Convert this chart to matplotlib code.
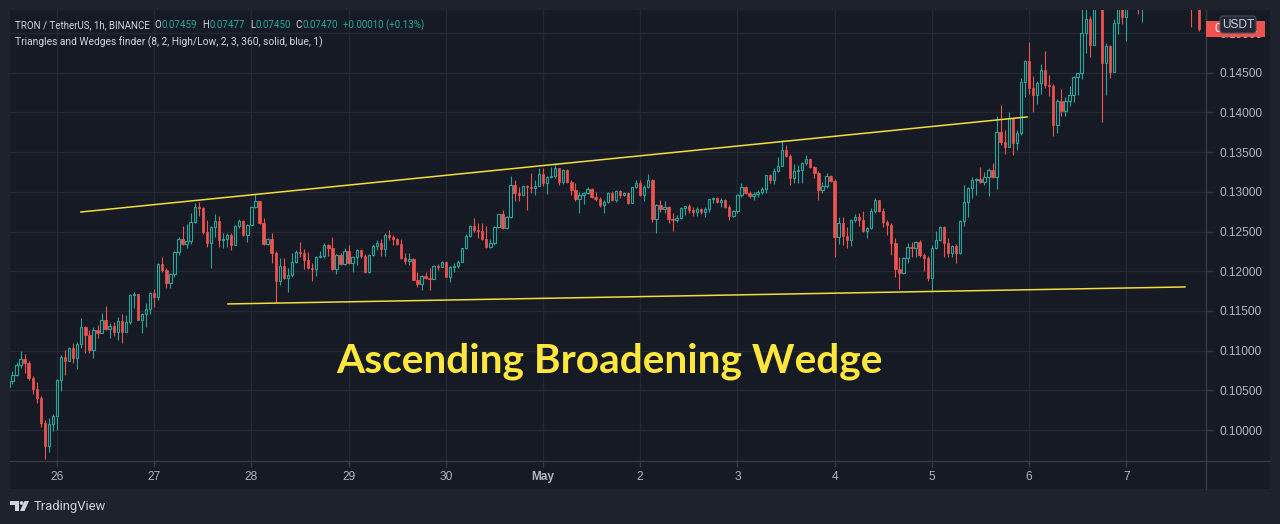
import numpy as np
import matplotlib
matplotlib.use("Agg")
import matplotlib.pyplot as plt
from matplotlib import font_manager
from matplotlib.patches import Rectangle, FancyBboxPatch, Polygon, Circle
from matplotlib.lines import Line2D
from matplotlib.transforms import Affine2D

# ---------------- data (prices x 100000, hourly candles from 2024-04-25 12:00) ----------------
FIRST_OPEN = 10542
CLOSE = [10617,10693,10819,10895,10844,10655,10517,10403,10089,9799,10077,10176,10630,10920,10869,11033,10907,11084,11298,11197,
11008,11260,11222,11386,11273,11310,11235,11373,11235,11360,11701,11714,11386,11462,11525,11726,11676,12091,12016,11852,
11966,12242,12406,12343,12380,12620,12809,12796,12494,12355,12557,12632,12393,12406,12456,12330,12570,12632,12456,12582,
12809,12884,12607,12343,12406,12229,11877,12066,11915,11953,12117,12242,12229,12142,12041,12028,12180,12192,12330,12292,
12028,12204,12091,12255,12104,12180,12267,12192,11991,12204,12318,12355,12280,12456,12431,12406,12343,12167,12129,12154,
11890,11840,11940,11915,11903,12066,12054,12117,11928,12054,12066,12117,12292,12443,12570,12519,12507,12406,12305,12355,
12557,12721,12544,12683,13086,12985,12960,13074,13061,13049,13074,13225,13112,13187,13200,13301,13124,13275,13124,13023,
12910,12960,12985,13036,12935,12910,12834,12872,12985,12897,13011,12960,12985,12859,13061,13112,12960,13061,13149,12658,
12834,12784,12809,12658,12645,12670,12796,12821,12771,12746,12784,12746,12784,12910,12922,12872,12897,12809,12696,12759,
12960,13061,12985,12947,12973,12998,13036,13212,13149,13263,13326,13527,13452,13175,13263,13275,13364,13414,13313,13238,
13023,13074,13200,13137,12431,12607,12443,12393,12645,12683,12645,12507,12544,12759,12897,12759,12620,12582,12355,12028,
11978,12167,12305,12292,12368,12204,12167,11915,12292,12393,12557,12355,12229,12318,12229,12632,12872,13049,13149,13162,
13124,13187,13275,13187,13754,13628,13565,13930,13615,13741,14383,14647,14307,14219,14370,14534,14345,14332,13842,14144,
14018,14144,14219,14446,14496,14999,15177,14849,15400,15600,14622,14837,14509,15126,15380,15202,15400,15500,15550,15450,
15600,15700,15800,15750,15900,15850,15950,16000,15900,15800,15700,15600,15450,15500,15051]
HIGH = [10655,10743,10857,10995,10958,10869,10680,10605,10428,10127,10151,10202,10643,10945,11008,11046,11096,11109,11411,11310,
11260,11298,11323,11474,11562,11348,11360,11424,11461,11449,11714,11739,11714,11474,11600,11739,11777,12104,12180,12041,
11978,12255,12431,12570,12595,12733,12859,12872,12809,12645,12570,12721,12696,12481,12481,12481,12582,12658,12645,12595,
12821,12973,12884,12670,12418,12481,12255,12167,12167,12041,12229,12267,12368,12280,12242,12104,12192,12255,12355,12343,
12431,12217,12229,12292,12330,12192,12280,12280,12217,12217,12343,12393,12406,12481,12519,12456,12418,12406,12229,12229,
12167,11991,11953,11991,12041,12079,12091,12129,12129,12066,12104,12142,12292,12469,12582,12670,12607,12607,12570,12406,
12570,12721,12771,12696,13200,13149,13061,13074,13086,13238,13149,13301,13301,13200,13313,13364,13301,13288,13288,13149,
13111,12998,12998,13061,13049,12998,12935,12897,12998,13011,13023,13023,12998,12998,13061,13149,13149,13086,13225,13162,
12846,12897,12884,12821,12733,12708,12809,12821,12846,12809,12809,12796,12809,12910,12935,12935,12922,12910,12834,12771,
12973,13111,13074,13011,12998,13023,13061,13212,13225,13301,13439,13653,13590,13477,13351,13338,13376,13464,13427,13326,
13263,13124,13238,13212,13162,12683,12683,12557,12658,12721,12733,12759,12557,12796,12922,12897,12796,12645,12607,12418,
12180,12180,12355,12368,12380,12393,12229,12192,12330,12507,12570,12570,12418,12330,12343,12645,13086,13061,13187,13175,
13313,13250,13301,13364,13955,14094,13779,14006,13817,13779,14433,14660,14887,14458,14395,14610,14773,14471,14358,14169,
14295,14194,14332,14458,14496,15350,15400,15214,15500,15750,15650,14874,14849,15177,15500,15450,15550,15600,15650,15600,
15700,15800,15900,15850,16000,15950,16050,16100,16000,15900,15800,15700,15650,15600,15600]
LOW = [10479,10580,10680,10781,10718,10630,10454,10340,10039,9636,9724,9988,10001,10491,10693,10869,10844,10768,11033,10970,
10970,10907,11159,11222,11260,11159,11184,11134,11096,11235,11335,11537,11386,11222,11298,11462,11550,11638,11991,11789,
11789,11928,12204,12330,12292,12343,12607,12696,12469,12305,12041,12431,12305,12292,12305,12267,12330,12544,12443,12368,
12582,12796,12595,12330,12330,12104,11600,11827,11903,11739,11928,12104,12180,12028,12028,11877,11940,12167,12167,12192,
12016,11966,12079,12079,12091,11991,12079,12167,11978,11978,12192,12267,12192,12192,12393,12330,12330,12154,12091,12079,
11890,11802,11764,11903,11764,11915,12016,12054,11928,11865,11991,12041,12117,12280,12431,12494,12418,12393,12292,12292,
12330,12544,12532,12532,12670,12884,12884,12960,12771,12985,12960,13074,13074,12973,13175,13175,13086,13099,13112,12960,
12884,12733,12846,12973,12922,12884,12809,12733,12859,12884,12872,12922,12947,12846,12859,13049,12947,12884,13049,12620,
12481,12746,12733,12607,12507,12620,12658,12708,12733,12696,12696,12721,12683,12746,12859,12859,12809,12796,12645,12683,
12733,12935,12973,12922,12897,12935,12973,12985,13112,13099,13250,13338,13439,13086,13112,13112,13112,13338,13301,13175,
12897,12985,13049,13124,12180,12343,12330,12292,12318,12620,12570,12494,12418,12532,12733,12746,12557,12456,12204,11928,
11777,11966,12104,12180,12180,12180,12003,11877,11739,12280,12380,12180,12180,12180,12104,12217,12570,12683,12922,12960,
13112,13086,12947,13175,13036,13590,13477,13565,13464,13527,13716,14194,14232,14006,14106,14232,14307,14206,13703,13741,
13955,13955,14081,14131,14219,14421,14748,14698,14849,15450,13880,14219,14433,14509,14987,15114,14899,15350,15400,15240,
15139,15550,15650,15600,15700,15700,15800,15850,15750,15650,15550,15450,15076,15350,15025]

DAY_LABELS = ["26", "27", "28", "29", "30", "May", "2", "3", "4", "5", "6", "7"]
DAY_POS = [12 + 24 * k for k in range(len(DAY_LABELS))]          # midnight of each day (hours from start)
PRICE_TICKS = [0.100, 0.105, 0.110, 0.115, 0.120, 0.125, 0.130, 0.135, 0.140, 0.145, 0.150]

UPPER_LINE_X = [17.9, 251.5]
UPPER_LINE_Y = [0.12746, 0.13943]
LOWER_LINE_X = [54.2, 290.5]
LOWER_LINE_Y = [0.11588, 0.11802]

HEADER_NAME = "TRON / TetherUS, 1h, BINANCE"
HEADER_OHLC = [("O", "0.07459"), ("H", "0.07477"), ("L", "0.07450"), ("C", "0.07470")]
HEADER_CHANGE = "+0.00010 (+0.13%)"
INDICATOR = "Triangles and Wedges finder (8, 2, High/Low, 2, 3, 360, solid, blue, 1)"
TITLE = "Ascending Broadening Wedge"

# ---------------- style ----------------
FRAME = "#1e222d"
PANE = "#161a25"
GRID = "#242833"
BORDER = "#363a45"
TXT = "#b2b5be"
LIGHT = "#d1d4dc"
GREEN = "#26a69a"
RED = "#ef5350"
TEAL_TXT = "#22ab94"
YEL = "#f2dd3a"

names = {f.name for f in font_manager.fontManager.ttflist}
SMALL = "Liberation Sans Narrow" if "Liberation Sans Narrow" in names else "Roboto"
plt.rcParams["font.family"] = ["Liberation Sans", "DejaVu Sans"]

W, H = 1280, 524
fig = plt.figure(figsize=(W / 100, H / 100), dpi=100)
fig.patch.set_facecolor(FRAME)
pxT = Affine2D().scale(1 / W, -1 / H).translate(0, 1) + fig.transFigure

fig.add_artist(Rectangle((10, 10), 1260, 479, transform=pxT, facecolor=PANE, edgecolor="none", zorder=0))

ax = fig.add_axes([10 / W, 1 - 461 / H, 1196 / W, 451 / H])
ax.set_facecolor(PANE)

opens = np.array([FIRST_OPEN] + CLOSE[:-1]) / 1e5
closes = np.array(CLOSE) / 1e5
highs = np.array(HIGH) / 1e5
lows = np.array(LOW) / 1e5
idx = np.arange(len(closes))
up = closes >= opens
cols = [GREEN if u else RED for u in up]
ax.vlines(idx, lows, highs, colors=cols, linewidth=0.8, zorder=3)
bottom = np.minimum(opens, closes)
height = np.maximum(np.abs(closes - opens), 0.00007)
ax.bar(idx[up], height[up], bottom=bottom[up], width=0.58, facecolor=PANE, edgecolor=GREEN,
       linewidth=0.8, zorder=4)
ax.bar(idx[~up], height[~up], bottom=bottom[~up], width=0.58, facecolor=RED, edgecolor=RED,
       linewidth=0.5, zorder=4)

ax.plot(UPPER_LINE_X, UPPER_LINE_Y, color=YEL, linewidth=1.1, zorder=5)
ax.plot(LOWER_LINE_X, LOWER_LINE_Y, color=YEL, linewidth=1.1, zorder=5)

ax.set_xlim(0.395, 295.7)
ax.set_ylim(0.09610, 0.15290)
for s in ax.spines.values():
    s.set_visible(False)
ax.yaxis.tick_right()
ax.set_yticks(PRICE_TICKS)
ax.set_yticklabels([f"{v:.5f}" for v in PRICE_TICKS])
ax.set_xticks(DAY_POS)
ax.set_xticklabels(DAY_LABELS)
ax.tick_params(axis="y", length=5, width=1, color=BORDER, labelcolor=TXT, labelsize=8.6, pad=5)
ax.tick_params(axis="x", length=4, width=1, color=BORDER, labelcolor=TXT, labelsize=8.6, pad=3)
for t in ax.get_xticklabels():
    if t.get_text() == "May":
        t.set_fontweight("bold")
ax.grid(True, color=GRID, linewidth=1)
ax.set_axisbelow(True)

# pane borders
fig.add_artist(Line2D([1206, 1206], [10, 489], transform=pxT, color=BORDER, linewidth=1, zorder=6))
fig.add_artist(Line2D([10, 1270], [461, 461], transform=pxT, color=BORDER, linewidth=1, zorder=6))

renderer = fig.canvas.get_renderer()


def text_row(pieces, x0, y, target_width, size0=8.6):
    """Place coloured text pieces one after another, scaled to a target width."""
    def place(size):
        arts, x = [], x0
        for s, c, gap in pieces:
            x += gap * size / size0
            t = fig.text(x, y, s, transform=pxT, color=c, fontsize=size, family=[SMALL, "DejaVu Sans"],
                         va="center", zorder=7)
            bb = t.get_window_extent(renderer)
            x += bb.width
            arts.append(t)
        return arts, x - x0
    arts, w = place(size0)
    for a in arts:
        a.remove()
    arts, w = place(size0 * target_width / w)
    return arts


row1 = [(HEADER_NAME, LIGHT, 0)]
for letter, val in HEADER_OHLC:
    row1.append((letter, LIGHT, 6))
    row1.append((val, TEAL_TXT, 0.5))
row1.append((HEADER_CHANGE, TEAL_TXT, 6))
text_row(row1, 15, 25, 406)
text_row([(INDICATOR, LIGHT, 0)], 15, 42.5, 306)

# big title, fitted to the reference width
title = fig.text(336, 373, TITLE, transform=pxT, color="#ffe83b", fontsize=29, family=["Lato", "DejaVu Sans"],
                 fontweight="bold", va="baseline", ha="left", zorder=8)
bb = title.get_window_extent(renderer)
title.set_fontsize(29 * 546 / bb.width)

# last price label
ydisp = ax.transData.transform((0, closes[-1]))[1]
ypx = H - ydisp
fig.add_artist(Rectangle((1206, ypx - 8), 59, 16, transform=pxT, facecolor=RED, edgecolor="none", zorder=9))
fig.text(1236, ypx, f"{closes[-1]:.5f}", transform=pxT, color="white", fontsize=8.6, ha="center", va="center", zorder=10)
fig.add_artist(FancyBboxPatch((1220, 16), 36, 17, boxstyle="round,pad=0,rounding_size=3", transform=pxT,
                              facecolor="#242835", edgecolor="#4a4e59", linewidth=0.8, zorder=11))
fig.text(1238, 24.5, "USDT", transform=pxT, color=LIGHT, fontsize=8.6, ha="center", va="center", zorder=12)

# TradingView logo
fig.add_artist(Polygon([(10, 501), (19, 501), (19, 511), (15, 511), (15, 505), (10, 505)], closed=True,
                       transform=pxT, facecolor=LIGHT, edgecolor="none"))
fig.add_artist(Circle((21.6, 503), 1.9, transform=pxT, facecolor=LIGHT, edgecolor="none"))
fig.add_artist(Polygon([(24.5, 501), (29, 501), (24.5, 511), (20, 511)], closed=True,
                       transform=pxT, facecolor=LIGHT, edgecolor="none"))
fig.text(33.5, 506.5, "TradingView", transform=pxT, color=LIGHT, fontsize=9.4, family=[SMALL, "DejaVu Sans"],
         va="center")

fig.savefig("out.png", dpi=100, facecolor=FRAME)
